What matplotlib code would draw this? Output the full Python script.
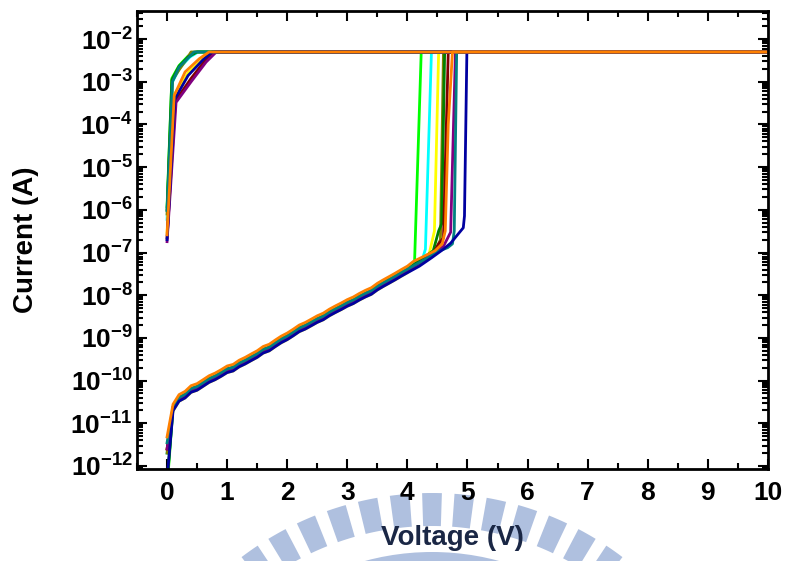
import numpy as np
import matplotlib
matplotlib.use('Agg')
import matplotlib.pyplot as plt
from matplotlib.patches import Wedge
from matplotlib.ticker import LogLocator, FuncFormatter, MultipleLocator, NullFormatter

plt.rcParams['font.family'] = ['Liberation Sans', 'DejaVu Sans']
plt.rcParams['font.weight'] = 'bold'
plt.rcParams['mathtext.fontset'] = 'custom'
plt.rcParams['mathtext.rm'] = 'Liberation Sans:bold'
plt.rcParams['mathtext.bf'] = 'Liberation Sans:bold'

# compliance current (A)
compliance = 5e-3

# high-resistance-state sweep shared by all cycles (top of the band)
hrs_v = [0.1, 0.2, 0.3, 0.4, 0.5, 0.6, 0.7, 0.8, 0.9, 1.0,
         1.1, 1.2, 1.3, 1.4, 1.5, 1.6, 1.7, 1.8, 1.9, 2.0,
         2.1, 2.2, 2.3, 2.4, 2.5, 2.6, 2.7, 2.8, 2.9, 3.0,
         3.1, 3.2, 3.3, 3.4, 3.5, 3.6, 3.7, 3.8, 3.9, 4.0]
hrs_i = [2.8e-11, 4.7e-11, 5.6e-11, 7.6e-11, 8.5e-11, 1.05e-10, 1.3e-10, 1.5e-10, 1.8e-10, 2.2e-10,
         2.4e-10, 3.0e-10, 3.5e-10, 4.2e-10, 5.0e-10, 6.3e-10, 7.1e-10, 8.9e-10, 1.1e-9, 1.3e-9,
         1.6e-9, 2.0e-9, 2.3e-9, 2.75e-9, 3.3e-9, 3.8e-9, 4.7e-9, 5.6e-9, 6.6e-9, 7.9e-9,
         9.1e-9, 1.1e-8, 1.3e-8, 1.5e-8, 1.9e-8, 2.3e-8, 2.75e-8, 3.3e-8, 4.0e-8, 4.8e-8]

# cycles, drawn in this order
colors = ['#00ff00', '#00ffff', '#ffff00', '#808000', '#008000',
          '#800000', '#800080', '#008080', '#0000a0', '#ff8000']
hrs_scale = [0.85, 0.8, 0.7, 0.85, 0.85, 0.8, 0.8, 0.85, 0.7, 1.0]
hrs_start = [3e-13, 2e-12, 2.5e-12, 2e-12, 4e-13, 2.5e-12, 2.5e-12, 3.5e-12, 5e-13, 4.8e-12]

# set transition after 4 V
set_v = [[4.1, 4.12, 4.23],
         [4.1, 4.25, 4.3, 4.40],
         [4.2, 4.36, 4.45, 4.52],
         [4.3, 4.45, 4.55, 4.6],
         [4.2, 4.43, 4.52, 4.57, 4.62],
         [4.3, 4.45, 4.52, 4.6, 4.68],
         [4.3, 4.6, 4.72, 4.80],
         [4.3, 4.5, 4.67, 4.75, 4.78, 4.82],
         [4.2, 4.4, 4.6, 4.72, 4.93, 4.95, 4.99],
         [4.1, 4.3, 4.46, 4.58, 4.63, 4.68, 4.75]]
set_i = [[5.8e-8, 6.5e-8, 5e-3],
         [5.5e-8, 7e-8, 1.2e-7, 5e-3],
         [5.5e-8, 9e-8, 3.2e-7, 5e-3],
         [6.5e-8, 1.0e-7, 2e-7, 5e-3],
         [6.5e-8, 1.1e-7, 3.2e-7, 4.7e-7, 5e-3],
         [7e-8, 1.05e-7, 1.6e-7, 2.2e-7, 5e-3],
         [7e-8, 1.4e-7, 3.0e-7, 5e-3],
         [7e-8, 1.05e-7, 1.3e-7, 1.6e-7, 3.2e-7, 5e-3],
         [4.8e-8, 7.5e-8, 1.2e-7, 1.66e-7, 3.8e-7, 7.2e-7, 5e-3],
         [6.2e-8, 8.5e-8, 1.1e-7, 1.6e-7, 3.2e-7, 1e-4, 5e-3]]

# low-resistance-state sweeps
lrs_v = [[0, 0.08, 0.2, 0.35, 0.48],
         [0, 0.09, 0.22, 0.38, 0.52],
         [0, 0.12, 0.35, 0.6, 0.8],
         [0, 0.09, 0.2, 0.3, 0.4],
         [0, 0.08, 0.2, 0.35, 0.5],
         [0, 0.14, 0.4, 0.62, 0.8],
         [0, 0.15, 0.4, 0.65, 0.82],
         [0, 0.09, 0.2, 0.35, 0.45],
         [0, 0.13, 0.35, 0.6, 0.75],
         [0, 0.12, 0.3, 0.54, 0.7]]
lrs_i = [[1.2e-6, 1.2e-3, 2.4e-3, 4e-3, 5e-3],
         [6e-7, 1.0e-3, 2.2e-3, 3.8e-3, 5e-3],
         [3e-7, 5e-4, 1.6e-3, 3.5e-3, 5e-3],
         [8e-7, 1.1e-3, 1.9e-3, 3.0e-3, 5e-3],
         [1.0e-6, 1.1e-3, 2.3e-3, 3.8e-3, 5e-3],
         [2.2e-7, 3.6e-4, 1.2e-3, 3.0e-3, 5e-3],
         [1.8e-7, 3.3e-4, 1.0e-3, 2.9e-3, 5e-3],
         [9.6e-7, 1.0e-3, 2.2e-3, 3.6e-3, 5e-3],
         [2.0e-7, 4e-4, 1.4e-3, 3.3e-3, 5e-3],
         [2.6e-7, 4.8e-4, 1.7e-3, 3.5e-3, 5e-3]]

x_ticks = [0, 1, 2, 3, 4, 5, 6, 7, 8, 9, 10]

fig = plt.figure(figsize=(7.86, 5.61), dpi=100)

# watermark in pixel space
bg = fig.add_axes([0, 0, 1, 1], zorder=0)
bg.set_xlim(0, 786)
bg.set_ylim(561, 0)
bg.axis('off')
wm = '#afc0df'
for k in range(-6, 7):
    a = 270 + k * 5.9
    bg.add_patch(Wedge((432, 808), 315, a - 1.8, a + 1.8, width=33, color=wm, lw=0))
bg.add_patch(Wedge((432, 808), 256, 270 - 40, 270 + 40, width=30, color=wm, lw=0))

ax = fig.add_axes([0.1743, 0.164, 0.8027, 0.816], zorder=1)

for n, c in enumerate(colors):
    v = [0] + hrs_v + set_v[n] + [10]
    i = [hrs_start[n]] + [x * hrs_scale[n] for x in hrs_i] + set_i[n] + [compliance]
    ax.plot(v, i, color=c, lw=2)
    ax.plot(lrs_v[n] + [10], lrs_i[n] + [compliance], color=c, lw=2)

ax.set_yscale('log')
ax.set_xlim(-0.5, 10)
ax.set_ylim(8.5e-13, 4.5e-2)
ax.set_xticks(x_ticks)
ax.xaxis.set_minor_locator(MultipleLocator(0.5))
ax.yaxis.set_major_locator(LogLocator(base=10, numticks=30))
ax.yaxis.set_minor_locator(LogLocator(base=10, subs=range(2, 10), numticks=30))
ax.yaxis.set_minor_formatter(NullFormatter())
ax.yaxis.set_major_formatter(FuncFormatter(
    lambda y, p: r'$\mathbf{10^{%d}}$' % round(np.log10(y))))

ax.tick_params(which='both', direction='in', top=True, right=True, width=1.5)
ax.tick_params(which='major', length=7, labelsize=19)
ax.tick_params(axis='y', which='major', pad=3)
ax.tick_params(axis='x', which='major', pad=9)
ax.tick_params(which='minor', length=4)
for t in ax.get_xticklabels() + ax.get_yticklabels():
    t.set_fontweight('bold')
for s in ax.spines.values():
    s.set_linewidth(2)

ax.set_xlabel('Voltage (V)', fontsize=20, fontweight='bold', color='#1a2745', labelpad=14)
ax.set_ylabel('Current (A)', fontsize=20, fontweight='bold')
ax.yaxis.set_label_coords(-0.155, 0.5)

plt.savefig('out.png', dpi=100)
